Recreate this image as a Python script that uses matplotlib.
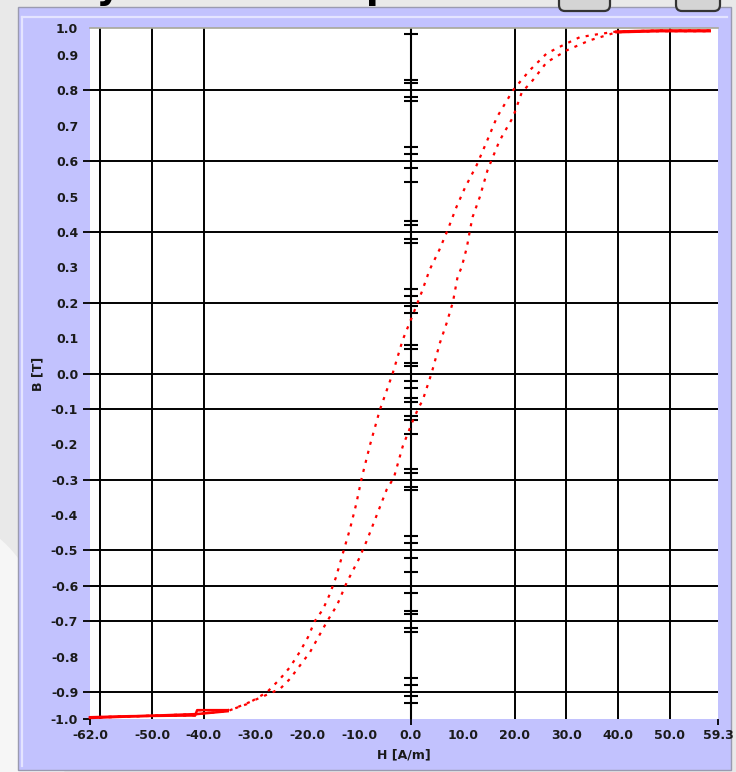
import numpy as np
import matplotlib.pyplot as plt
from matplotlib.patches import Rectangle, FancyBboxPatch, Ellipse

# hysteresis loop, H in A/m, B in T
# descending branch (coming down from positive saturation)
h_down = [57.7, 48.0, 39.7, 35.9, 32.6, 29.3, 26.2, 22.9, 19.7, 16.6, 14.6, 12.7,
          10.4, 8.8, 7.1, 5.5, 3.6, 2.1, 0.2, -1.6, -3.5, -5.1, -6.0, -7.9, -9.5,
          -10.6, -11.8, -13.0, -14.5, -15.7, -17.0, -18.6, -19.9, -21.5, -23.4,
          -25.3, -27.8, -31.7, -34.4, -35.4, -41.3, -41.7, -54.3, -62.0]
b_down = [0.969, 0.969, 0.966, 0.958, 0.950, 0.927, 0.904, 0.856, 0.800, 0.724,
          0.654, 0.589, 0.524, 0.471, 0.406, 0.350, 0.293, 0.231, 0.160, 0.095,
          0.002, -0.065, -0.102, -0.201, -0.294, -0.370, -0.440, -0.500, -0.576,
          -0.624, -0.666, -0.700, -0.745, -0.787, -0.830, -0.863, -0.900, -0.934,
          -0.948, -0.951, -0.951, -0.966, -0.968, -0.971]
# ascending branch (going up from negative saturation)
h_up = [-62.0, -41.3, -35.4, -29.8, -25.3, -23.4, -19.5, -16.2, -14.3, -12.4,
        -10.1, -8.5, -6.8, -4.7, -3.3, -1.6, 0.2, 1.3, 2.3, 4.0, 5.6, 6.9, 8.1,
        9.0, 9.8, 10.8, 11.4, 11.9, 13.3, 14.8, 15.8, 17.0, 17.7, 19.7, 21.4,
        23.5, 26.2, 30.1, 34.5, 39.7, 48.0, 57.7]
b_up = [-0.973, -0.962, -0.954, -0.920, -0.891, -0.863, -0.787, -0.700, -0.655,
        -0.590, -0.525, -0.471, -0.407, -0.328, -0.294, -0.206, -0.139, -0.102,
        -0.074, 0.002, 0.087, 0.143, 0.202, 0.273, 0.301, 0.357, 0.406, 0.442,
        0.499, 0.575, 0.611, 0.654, 0.673, 0.724, 0.794, 0.828, 0.879, 0.913,
        0.941, 0.964, 0.967, 0.967]

x_ticks = [-62.0, -50.0, -40.0, -30.0, -20.0, -10.0, 0.0, 10.0, 20.0, 30.0, 40.0, 50.0, 59.3]
x_ticklabels = ['-62.0', '-50.0', '-40.0', '-30.0', '-20.0', '-10.0', '0.0',
                '10.0', '20.0', '30.0', '40.0', '50.0', '59.3']
x_marked = [-62.0, 0.0, 59.3]

y_ticks = [-0.976, -0.9, -0.8, -0.7, -0.6, -0.5, -0.4, -0.3, -0.2, -0.1, 0.0,
           0.1, 0.2, 0.3, 0.4, 0.5, 0.6, 0.7, 0.8, 0.9, 0.976]
y_ticklabels = ['-1.0', '-0.9', '-0.8', '-0.7', '-0.6', '-0.5', '-0.4', '-0.3',
                '-0.2', '-0.1', '0.0', '0.1', '0.2', '0.3', '0.4', '0.5', '0.6',
                '0.7', '0.8', '0.9', '1.0']

grid_h = [-60, -50, -40, 20, 30, 40, 50]
grid_b = [0.8, 0.6, 0.4, 0.2, 0.0, -0.1, -0.3, -0.5, -0.6, -0.7, -0.9]

# little cross marks along the H = 0 axis
axis_marks = [0.96, 0.83, 0.82, 0.78, 0.77, 0.64, 0.62, 0.58, 0.54, 0.43, 0.42,
              0.38, 0.37, 0.24, 0.22, 0.19, 0.17, 0.08, 0.07, 0.03, 0.02, -0.02,
              -0.04, -0.07, -0.08, -0.12, -0.13, -0.17, -0.27, -0.28, -0.32,
              -0.33, -0.46, -0.48, -0.52, -0.56, -0.62, -0.67, -0.68, -0.72,
              -0.73, -0.86, -0.88, -0.91, -0.93]

W, H = 736, 772
LAVENDER = '#c2c2fe'


def fig_box(x0, y0, x1, y1):
    # pixel box (top-left origin) -> figure fraction rectangle
    return x0 / W, 1 - y1 / H, (x1 - x0) / W, (y1 - y0) / H


fig = plt.figure(figsize=(W / 100, H / 100), dpi=100, facecolor='#e9e9e9')

# window decoration behind the chart
fig.add_artist(Ellipse((-0.06, 0.05), 0.3, 0.55, transform=fig.transFigure,
                       facecolor='#f6f6f6', edgecolor='none', zorder=-5))
x0, y0, w, h = fig_box(18, 7, 731, 770)
fig.add_artist(Rectangle((x0, y0), w, h, transform=fig.transFigure,
                         facecolor=LAVENDER, edgecolor='#9a9ab0', lw=1.0, zorder=-4))
fig.add_artist(plt.Line2D([22 / W, 22 / W], [1 - 766 / H, 1 - 17 / H],
                          transform=fig.transFigure, color='#e4e4ff', lw=1.6, zorder=-3))
fig.add_artist(plt.Line2D([22 / W, 727 / W], [1 - 17 / H, 1 - 17 / H],
                          transform=fig.transFigure, color='#e4e4ff', lw=1.6, zorder=-3))
for bx0, bx1 in [(559, 610), (676, 720)]:
    x0, y0, w, h = fig_box(bx0, -30, bx1, 11)
    fig.add_artist(FancyBboxPatch((x0, y0), w, h, boxstyle='round,pad=0,rounding_size=0.008',
                                  transform=fig.transFigure, facecolor='#d4d4d4',
                                  edgecolor='#333333', lw=1.6, zorder=-3))
# window title, mostly scrolled off the top
fig.text(65 / W, 1 + 2.5 / H, 'Hysteresis loop', fontsize=27, fontweight='bold',
         color='black', ha='left', va='baseline')

ax = fig.add_axes(fig_box(90, 28, 718, 719))
ax.set_facecolor('white')
ax.set_xlim(-62.0, 59.3)
ax.set_ylim(-0.976, 0.976)

for gh in grid_h:
    ax.axvline(gh, color='black', lw=1.4, zorder=1)
for gb in grid_b:
    ax.axhline(gb, color='black', lw=1.4, zorder=1)
ax.axvline(0, color='black', lw=1.5, zorder=2)
ax.plot(np.zeros(len(axis_marks)), axis_marks, linestyle='none', marker='_',
        markersize=10.5, markeredgewidth=1.5, color='black', zorder=2)

h_down = np.array(h_down)
b_down = np.array(b_down)
h_up = np.array(h_up)
b_up = np.array(b_up)
for hh, bb in [(h_down, b_down), (h_up, b_up)]:
    ax.plot(hh, bb, color='#ff0000', lw=1.6, linestyle=(0, (1.4, 2.8)), zorder=3)
    top = hh >= 39.0
    bottom = hh <= -35.0
    ax.plot(hh[top], bb[top], color='#ff0000', lw=1.8, zorder=3, clip_on=False)
    ax.plot(hh[bottom], bb[bottom], color='#ff0000', lw=1.8, zorder=3, clip_on=False)

for side in ['left', 'right', 'bottom']:
    ax.spines[side].set_visible(False)
ax.spines['top'].set_color('#a8a898')
ax.spines['top'].set_linewidth(1.2)

tick_font = dict(fontsize=9, fontweight='bold', color='#1a1a1a')
ax.set_xticks(x_ticks)
ax.set_xticklabels(x_ticklabels, **tick_font)
ax.set_yticks(y_ticks)
ax.set_yticklabels(y_ticklabels, **tick_font)
ax.tick_params(axis='x', direction='out', length=4, width=1.3, pad=3, color='black')
ax.tick_params(axis='y', direction='out', length=5, width=1.3, pad=3.5, color='black')
for val, tick in zip(x_ticks, ax.xaxis.get_major_ticks()):
    tick.tick1line.set_visible(val in x_marked)
for val, tick in zip(y_ticks, ax.yaxis.get_major_ticks()):
    tick.tick1line.set_visible(val in grid_b or val == y_ticks[0])

ax.set_xlabel('H [A/m]', fontsize=9, fontweight='bold', color='#1a1a1a')
ax.set_ylabel('B [T]', fontsize=9, fontweight='bold', color='#1a1a1a')
ax.xaxis.set_label_coords(0.5, -0.043)
ax.yaxis.set_label_coords(-0.073, 0.5)

fig.savefig('out.png', dpi=100, facecolor=fig.get_facecolor())
